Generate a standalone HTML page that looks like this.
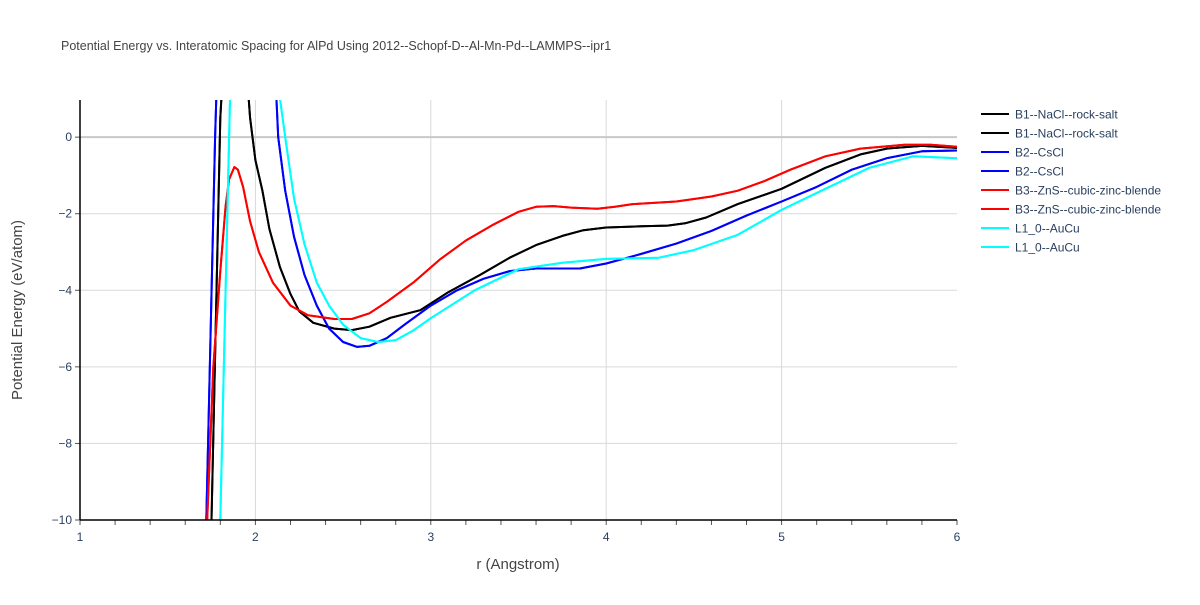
<!DOCTYPE html>
<html><head><meta charset="utf-8"><style>
body{margin:0;background:#fff;font-family:"Liberation Sans",Arial,sans-serif}
svg text{font-family:"Liberation Sans",Arial,sans-serif;fill:#2a3f5f}
</style></head><body>
<svg id="chart" width="1200" height="600" xmlns="http://www.w3.org/2000/svg">
<defs><clipPath id="clip"><rect x="80" y="100" width="877" height="420"/></clipPath></defs>
<text x="61" y="50" font-size="12.5" style="fill:#444">Potential Energy vs. Interatomic Spacing for AlPd Using 2012--Schopf-D--Al-Mn-Pd--LAMMPS--ipr1</text>
<g id="grid"></g>
<g id="series" clip-path="url(#clip)"></g>
<g id="axes"></g>
<text x="518" y="569" font-size="15" text-anchor="middle" style="fill:#444">r (Angstrom)</text>
<text x="22" y="310" font-size="15" text-anchor="middle" transform="rotate(-90 22 310)" style="fill:#444">Potential Energy (eV/atom)</text>
<g id="legend"></g>
</svg>
<script>
const xTicks=[1,2,3,4,5,6];
const yTicks=[0,-2,-4,-6,-8,-10];
const seriesNames=["B1--NaCl--rock-salt","B2--CsCl","B3--ZnS--cubic-zinc-blende","L1_0--AuCu"];
const seriesColors=["#000000","#0000ff","#ff0000","#00ffff"];
const b1R=[1.75,1.8,1.83,1.93,1.97,2.0,2.04,2.08,2.14,2.2,2.25,2.33,2.45,2.55,2.65,2.77,2.94,3.1,3.28,3.45,3.6,3.75,3.87,4.0,4.2,4.35,4.45,4.57,4.75,5.0,5.25,5.45,5.6,5.8,6.0];
const b1E=[-10,0.5,3,3,0.5,-0.6,-1.4,-2.4,-3.4,-4.1,-4.55,-4.85,-5.0,-5.04,-4.95,-4.72,-4.52,-4.05,-3.6,-3.15,-2.82,-2.58,-2.43,-2.36,-2.33,-2.31,-2.25,-2.1,-1.75,-1.35,-0.8,-0.45,-0.3,-0.23,-0.28];
const b2R=[1.72,1.77,1.79,2.1,2.13,2.17,2.22,2.28,2.35,2.42,2.5,2.58,2.65,2.75,2.85,3.0,3.15,3.3,3.45,3.6,3.85,4.0,4.2,4.4,4.6,4.8,5.0,5.2,5.4,5.6,5.8,6.0];
const b2E=[-10,0,3,3,0,-1.4,-2.6,-3.6,-4.4,-5.0,-5.35,-5.48,-5.45,-5.25,-4.9,-4.4,-4.0,-3.7,-3.5,-3.43,-3.43,-3.3,-3.05,-2.78,-2.45,-2.05,-1.68,-1.3,-0.85,-0.55,-0.37,-0.35];
const b3R=[1.725,1.76,1.8,1.83,1.85,1.88,1.9,1.93,1.97,2.02,2.1,2.2,2.3,2.45,2.55,2.65,2.75,2.9,3.05,3.2,3.35,3.5,3.6,3.7,3.8,3.95,4.05,4.15,4.4,4.6,4.75,4.9,5.05,5.25,5.45,5.7,5.85,6.0];
const b3E=[-10,-6,-3.5,-1.8,-1.1,-0.78,-0.85,-1.3,-2.2,-3.0,-3.8,-4.4,-4.65,-4.75,-4.75,-4.6,-4.3,-3.8,-3.2,-2.7,-2.3,-1.95,-1.82,-1.8,-1.84,-1.87,-1.82,-1.75,-1.68,-1.55,-1.4,-1.15,-0.85,-0.5,-0.3,-0.2,-0.2,-0.25];
const l10R=[1.8,1.855,1.87,2.1,2.14,2.17,2.22,2.28,2.35,2.42,2.5,2.6,2.7,2.8,2.9,3.0,3.25,3.5,3.75,4.0,4.3,4.5,4.75,5.0,5.25,5.5,5.75,6.0];
const l10E=[-10,1,3,3,1,0,-1.6,-2.8,-3.8,-4.4,-4.9,-5.25,-5.35,-5.3,-5.05,-4.73,-4.0,-3.45,-3.28,-3.18,-3.15,-2.95,-2.55,-1.9,-1.35,-0.8,-0.5,-0.55];
const allR=[b1R,b2R,b3R,l10R], allE=[b1E,b2E,b3E,l10E];
const NS="http://www.w3.org/2000/svg";
const X0=80,X1=957,Y0=520,Y1=100,xmin=1,xmax=6,ymin=-10,ymax=0.97;
const sx=v=>X0+(v-xmin)/(xmax-xmin)*(X1-X0);
const sy=v=>Y0-(v-ymin)/(ymax-ymin)*(Y0-Y1);
function mk(t,a,p){const e=document.createElementNS(NS,t);for(const k in a)e.setAttribute(k,a[k]);p.appendChild(e);return e;}
const grid=document.getElementById('grid'),axes=document.getElementById('axes');
xTicks.forEach(v=>{
 if(v>xmin&&v<xmax){const l=mk('line',{x1:sx(v),x2:sx(v),y1:Y1,y2:Y0,stroke:'#d9d9d9','stroke-width':1},grid);
 
 }
 const t=mk('text',{x:sx(v),y:541,'font-size':12,'text-anchor':'middle'},axes);t.textContent=v;
 
 
});
for(let v=1;v<=6.001;v+=0.2){mk('line',{x1:sx(v),x2:sx(v),y1:Y0,y2:Y0+5,stroke:'#555','stroke-width':1},axes);}
yTicks.forEach(v=>{
 if(v>ymin){const l=mk('line',{x1:X0,x2:X1,y1:sy(v),y2:sy(v),stroke:v===0?'#c8c8c8':'#d9d9d9','stroke-width':v===0?2:1},grid);
 
 }
 const t=mk('text',{x:72,y:sy(v)+4,'font-size':12,'text-anchor':'end'},axes);t.textContent=(v<0?'\u2212':'')+Math.abs(v);
 
 
 mk('line',{x1:X0-5,x2:X0,y1:sy(v),y2:sy(v),stroke:'#555'},axes);
});
mk('line',{x1:X0,x2:X0,y1:Y1,y2:Y0,stroke:'#000','stroke-width':1.5},axes);
mk('line',{x1:X0,x2:X1,y1:Y0,y2:Y0,stroke:'#000','stroke-width':1.5},axes);
const sg=document.getElementById('series'),lg=document.getElementById('legend');
let li=0;
allR.forEach((R,i)=>{
 for(let k=0;k<2;k++){
  const d=R.map((r,j)=>(j?'L':'M')+sx(r).toFixed(1)+','+sy(allE[i][j]).toFixed(1)).join('');
  const p=mk('path',{d:d,fill:'none',stroke:seriesColors[i],'stroke-width':2,'stroke-linejoin':'round'},sg);
  
  
  const y=114+li*19;
  const g=mk('g',{},lg);
  
  
  mk('line',{x1:981,x2:1009,y1:y,y2:y,stroke:seriesColors[i],'stroke-width':2},g);
  const t=mk('text',{x:1015,y:y+4.5,'font-size':12},g);t.textContent=seriesNames[i];
  li++;
 }
});
</script>
</body></html>
